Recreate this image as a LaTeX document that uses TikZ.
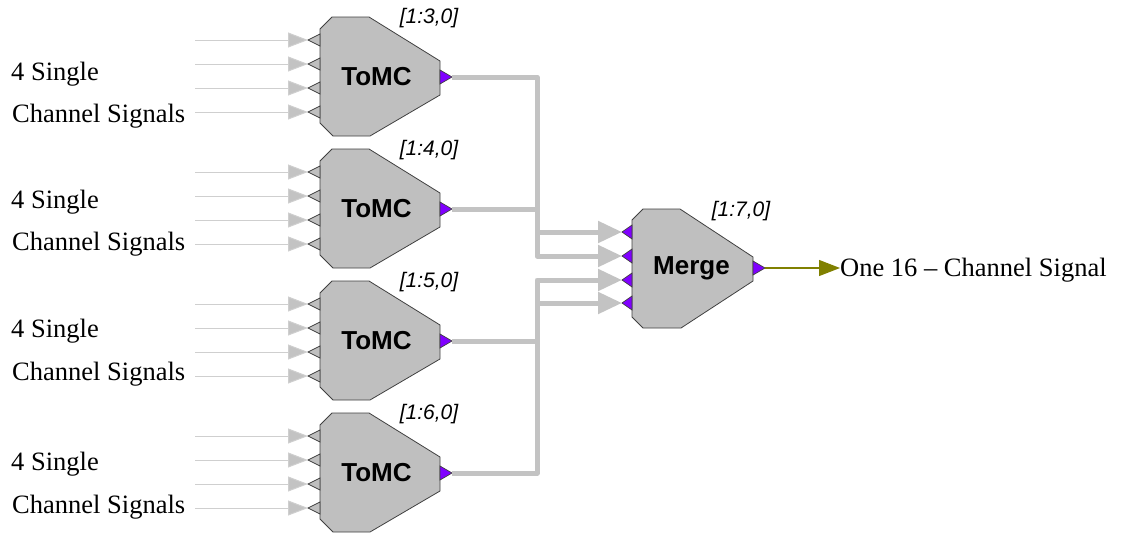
\documentclass[tikz,border=0pt]{standalone}
\usepackage{fontspec}
\setmainfont{Liberation Serif}
\setsansfont{Liberation Sans}
\usetikzlibrary{arrows.meta}
\definecolor{portv}{RGB}{128,0,255}
\definecolor{busgray}{RGB}{195,195,195}
\definecolor{olivetip}{RGB}{128,128,0}

\begin{document}
\begin{tikzpicture}[x=1pt, y=-1pt, every node/.style={inner sep=0pt},
  body/.style={draw=black!75, fill=black!25, line width=0.8pt},
  inport/.style={draw=black!75, fill=black!25, line width=0.7pt},
  outport/.style={draw=black!75, fill=portv, line width=0.7pt},
  sig/.style={draw=busgray!80, line width=1pt, -{Triangle[length=20pt, width=15pt, fill=busgray]}},
  bus/.style={draw=busgray, line width=5pt, line join=round, -{Triangle[length=24pt, width=21pt, fill=busgray]}},
  res/.style={draw=olivetip, line width=1.2pt, -{Triangle[length=21pt, width=16pt, fill=olivetip]}},
  lbl/.style={font=\fontsize{26.5}{30}\selectfont},
  blkname/.style={font=\sffamily\bfseries\fontsize{26}{30}\selectfont},
  idx/.style={font=\sffamily\itshape\fontsize{21}{24}\selectfont}]
\useasboundingbox (0,0) rectangle (1121,536);

% four ToMC blocks with their inputs
\foreach \i/\T/\n/\ya/\yb in {1/17/3/74/116, 2/149/4/202/244, 3/281/5/331/374, 4/413/6/464/507} {
  \coordinate (t\i) at (320,\T);
  \filldraw[body] (t\i) ++(0,12) -- ++(12,-12) -- ++(37,0) -- ++(71,44) -- ++(0,34) -- ++(-70,41) -- ++(-37,0) -- ++(-13,-13) -- cycle;
  \node[blkname] (t\i-txt) at ([shift={(56.5,60)}]t\i) {ToMC};
  \node[idx] (t\i-idx) at ([shift={(109,1)}]t\i) {[1:\n,0]};
  \filldraw[outport] ([shift={(120,53)}]t\i) -- ++(12,7) -- ++(-12,7) -- cycle;
  \coordinate (t\i-out) at ([shift={(132,60)}]t\i);
  \foreach \k/\dy in {1/23, 2/47, 3/71, 4/95} {
    \filldraw[inport] ([shift={(0,\dy-6)}]t\i) -- ++(-12,6) -- ++(12,6) -- cycle;
    \coordinate (t\i-in\k) at ([shift={(-12,\dy)}]t\i);
    \coordinate (t\i-src\k) at ([shift={(-125,\dy)}]t\i);
    \draw[sig] (t\i-src\k) -- (t\i-in\k);
  }
  \node[lbl, anchor=west] (t\i-a) at (11,\ya) {4 Single};
  \node[lbl, anchor=west] (t\i-b) at (12,\yb) {Channel Signals};
}

% merge block
\coordinate (m) at (632,209);
\filldraw[body] (m) ++(0,11) -- ++(11,-11) -- ++(37,0) -- ++(73,48) -- ++(0,24) -- ++(-72,47) -- ++(-38,0) -- ++(-11,-11) -- cycle;
\node[blkname] (m-txt) at ([shift={(59.5,59)}]m) {Merge};
\node[idx] (m-idx) at ([shift={(109,2)}]m) {[1:7,0]};
\filldraw[outport] ([shift={(121,52)}]m) -- ++(12,7) -- ++(-12,7) -- cycle;
\coordinate (m-out) at ([shift={(133,59)}]m);
\foreach \k/\dy in {1/23, 2/47, 3/71, 4/94} {
  \filldraw[outport] ([shift={(0,\dy-7)}]m) -- ++(-10,7) -- ++(10,7) -- cycle;
  \coordinate (m-in\k) at ([shift={(-10,\dy)}]m);
}

% buses into merge
\foreach \i in {1,...,4} {\draw[bus] (t\i-out) -- ++(85,0) |- (m-in\i);}

\node[lbl, anchor=west] (result) at (840,270) {One 16 – Channel Signal};
\draw[res] (m-out) -- (m-out -| result.west);
\end{tikzpicture}
\end{document}
